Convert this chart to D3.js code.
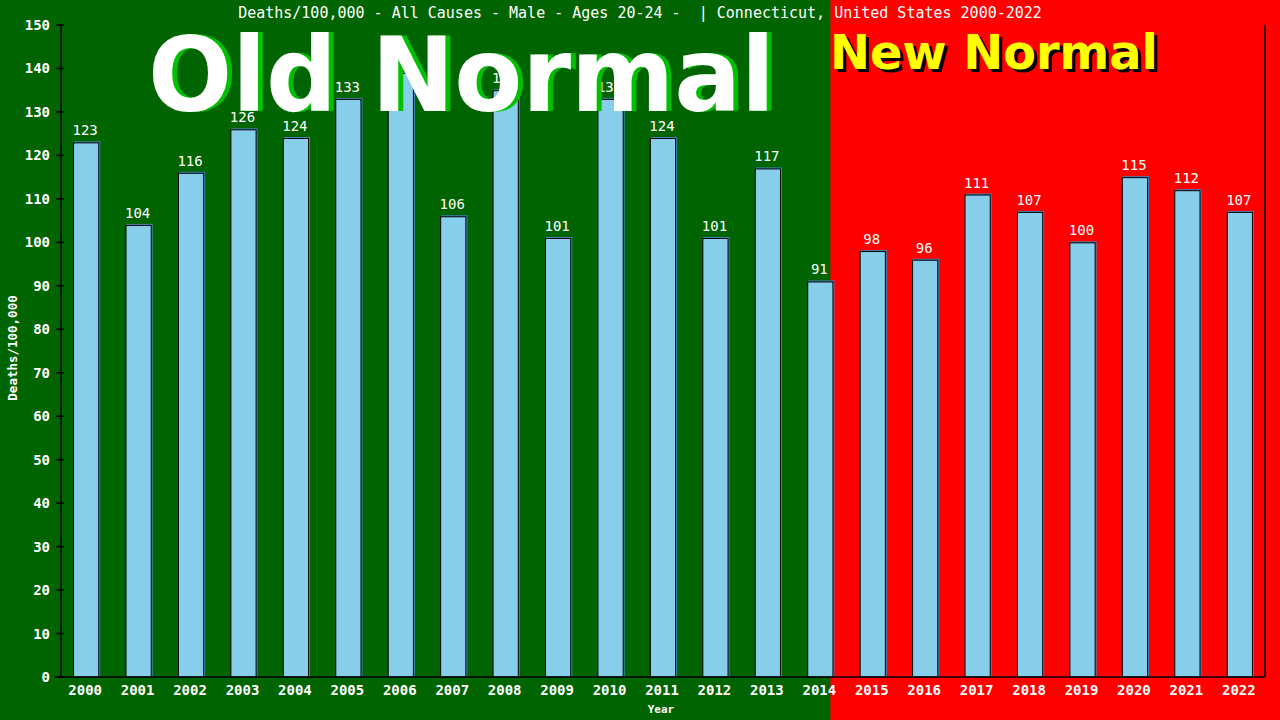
<!DOCTYPE html>
<html>
<head>
<meta charset="utf-8">
<script src="https://cdn.jsdelivr.net/npm/d3@7"></script>
<style>
  html, body { margin: 0; padding: 0; background: #006400; }
  svg { display: block; }
</style>
</head>
<body>
<div id="chart"></div>
<script>
'use strict';

// data
var years = ['2000', '2001', '2002', '2003', '2004', '2005', '2006', '2007', '2008', '2009', '2010', '2011',
	'2012', '2013', '2014', '2015', '2016', '2017', '2018', '2019', '2020', '2021', '2022'];
var deaths = [123, 104, 116, 126, 124, 133, 139, 106, 135, 101, 133, 124,
	101, 117, 91, 98, 96, 111, 107, 100, 115, 112, 107];
var yTicks = [0, 10, 20, 30, 40, 50, 60, 70, 80, 90, 100, 110, 120, 130, 140, 150];
var lastOldYear = '2014';

var title = 'Deaths/100,000 - All Causes - Male - Ages 20-24 -  | Connecticut, United States 2000-2022';

var width = 1280;
var height = 720;
var plotLeft = 61, plotRight = 1265, plotTop = 25, plotBottom = 677;
var mono = '"DejaVu Sans Mono", "Liberation Mono", monospace';

var svg = d3.select('#chart')
	.append('svg')
	.attr('width', width)
	.attr('height', height);

var x = d3.scaleBand()
	.domain(years)
	.range([plotLeft, plotRight])
	.paddingInner(0.5)
	.paddingOuter(0.23);

var y = d3.scaleLinear()
	.domain([0, 150])
	.range([plotBottom, plotTop]);

// backgrounds: old normal green, new normal red
var split = x(lastOldYear) + x.bandwidth() - 3;
svg.append('rect')
	.attr('x', 0).attr('y', 0)
	.attr('width', split).attr('height', height)
	.style('fill', '#006400');
svg.append('rect')
	.attr('x', split).attr('y', 0)
	.attr('width', width - split).attr('height', height)
	.style('fill', '#ff0000');

// title
svg.append('text')
	.text(title)
	.attr('x', 640)
	.attr('y', 18)
	.attr('text-anchor', 'middle')
	.style('font-family', mono)
	.style('font-size', '15px')
	.style('fill', '#fff')
	.style('white-space', 'pre');

// bars
var rows = years.map(function (yr, i) { return {year: yr, val: deaths[i]}; });

var bar = svg.append('g')
	.selectAll('g.bar')
	.data(rows)
	.enter()
	.append('g')
	.attr('class', 'bar');

bar.append('rect')
	.attr('x', function (d) { return x(d.year) + 1; })
	.attr('y', function (d) { return y(d.val) - 1; })
	.attr('width', x.bandwidth())
	.attr('height', function (d) { return plotBottom - y(d.val) + 1; })
	.style('fill', '#4682b4');

bar.append('rect')
	.attr('x', function (d) { return x(d.year) + 0.5; })
	.attr('y', function (d) { return y(d.val) + 0.5; })
	.attr('width', x.bandwidth() - 1)
	.attr('height', function (d) { return plotBottom - y(d.val) - 0.5; })
	.style('fill', '#87ceeb')
	.style('stroke', '#000')
	.style('stroke-width', 1);

bar.append('text')
	.text(function (d) { return d.val; })
	.attr('x', function (d) { return x(d.year) + x.bandwidth() / 2 - 1; })
	.attr('y', function (d) { return y(d.val) - 7; })
	.attr('text-anchor', 'middle')
	.style('font-family', mono)
	.style('font-size', '14px')
	.style('fill', '#fff');

// axes
var axes = svg.append('g')
	.style('stroke', '#000')
	.style('stroke-width', 1.5);

axes.append('line')
	.attr('x1', plotLeft).attr('x2', plotLeft)
	.attr('y1', plotTop).attr('y2', plotBottom);
axes.append('line')
	.attr('x1', plotRight).attr('x2', plotRight)
	.attr('y1', plotTop).attr('y2', plotBottom);
axes.append('line')
	.attr('x1', plotLeft - 6).attr('x2', plotRight)
	.attr('y1', plotBottom).attr('y2', plotBottom);

axes.selectAll('line.tick')
	.data(yTicks)
	.enter()
	.append('line')
	.attr('class', 'tick')
	.attr('x1', plotLeft - 5).attr('x2', plotLeft + 3)
	.attr('y1', function (d) { return y(d); })
	.attr('y2', function (d) { return y(d); });

svg.append('g')
	.selectAll('text')
	.data(yTicks)
	.enter()
	.append('text')
	.text(function (d) { return d; })
	.attr('x', 50)
	.attr('y', function (d) { return y(d) + 5; })
	.attr('text-anchor', 'end')
	.style('font-family', mono)
	.style('font-size', '14px')
	.style('font-weight', 'bold')
	.style('fill', '#fff');

svg.append('g')
	.selectAll('text')
	.data(years)
	.enter()
	.append('text')
	.text(function (d) { return d; })
	.attr('x', function (d) { return x(d) + x.bandwidth() / 2 - 1; })
	.attr('y', 695)
	.attr('text-anchor', 'middle')
	.style('font-family', mono)
	.style('font-size', '14px')
	.style('font-weight', 'bold')
	.style('fill', '#fff');

// axis titles
svg.append('text')
	.text('Year')
	.attr('x', 661)
	.attr('y', 713)
	.attr('text-anchor', 'middle')
	.style('font-family', mono)
	.style('font-size', '11px')
	.style('font-weight', 'bold')
	.style('fill', '#fff');

svg.append('g')
	.attr('transform', 'translate(17,348),rotate(-90)')
	.append('text')
	.text('Deaths/100,000')
	.attr('text-anchor', 'middle')
	.style('font-family', mono)
	.style('font-size', '12.5px')
	.style('font-weight', 'bold')
	.style('fill', '#fff');

// big overlay captions
var sans = '"DejaVu Sans", "Liberation Sans", sans-serif';

svg.append('text')
	.text('Old Normal')
	.attr('x', 153).attr('y', 111)
	.attr('textLength', 627)
	.attr('lengthAdjust', 'spacingAndGlyphs')
	.style('font-family', sans)
	.style('font-size', '104px')
	.style('font-weight', 'bold')
	.style('fill', '#00c000');
svg.append('text')
	.text('Old Normal')
	.attr('x', 148).attr('y', 111)
	.attr('textLength', 627)
	.attr('lengthAdjust', 'spacingAndGlyphs')
	.style('font-family', sans)
	.style('font-size', '104px')
	.style('font-weight', 'bold')
	.style('fill', '#fff');

svg.append('text')
	.text('New Normal')
	.attr('x', 833).attr('y', 72)
	.attr('textLength', 328)
	.attr('lengthAdjust', 'spacingAndGlyphs')
	.style('font-family', sans)
	.style('font-size', '48px')
	.style('font-weight', 'bold')
	.style('fill', '#000');
svg.append('text')
	.text('New Normal')
	.attr('x', 830).attr('y', 69)
	.attr('textLength', 328)
	.attr('lengthAdjust', 'spacingAndGlyphs')
	.style('font-family', sans)
	.style('font-size', '48px')
	.style('font-weight', 'bold')
	.style('fill', '#ffff00');
</script>
</body>
</html>
